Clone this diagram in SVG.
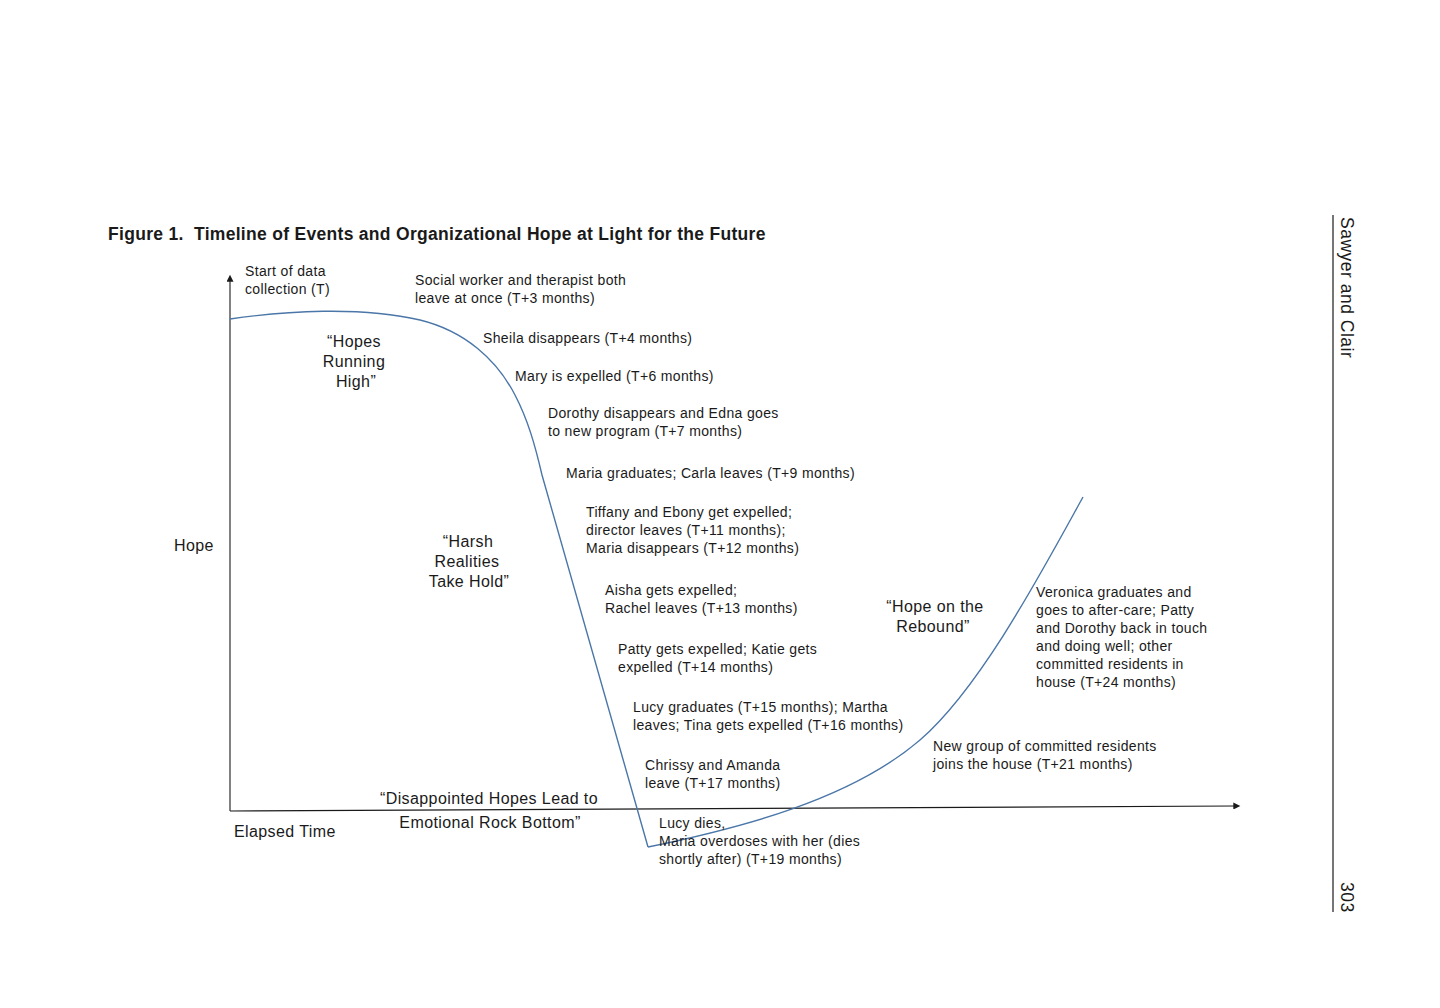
<svg xmlns="http://www.w3.org/2000/svg" width="1440" height="1008" viewBox="0 0 1440 1008">
<style>
text{font-family:"Liberation Sans",Arial,sans-serif;fill:#1a1a1a}
.t{font-size:14px;letter-spacing:0.35px}
.l{font-size:16px;letter-spacing:0.4px}
.c{text-anchor:middle}
.title{font-size:17.5px;font-weight:bold;letter-spacing:0.3px;white-space:pre}
.rh{font-size:17.5px;letter-spacing:0.5px}
.axis{stroke:#1a1a1a;stroke-width:1.1;fill:none}
.curve{stroke:#4a76a8;stroke-width:1.4;fill:none}
</style>
<defs>
<marker id="arr" viewBox="0 0 10 10" refX="1" refY="5" markerWidth="9" markerHeight="7" markerUnits="userSpaceOnUse" orient="auto">
<path d="M0,0 L10,5 L0,10 z" fill="#1a1a1a"/>
</marker>
</defs>
<rect width="1440" height="1008" fill="#fff"/>
<text class="title" x="108" y="240" xml:space="preserve">Figure 1.  Timeline of Events and Organizational Hope at Light for the Future</text>
<g id="connectors">
<path class="axis" d="M230,811 L230,281" marker-end="url(#arr)"/>
<path class="axis" d="M230,811 L1234,806" marker-end="url(#arr)"/>
<path id="curve-fall" class="curve" d="M230,319 C285,311 360,306 420,320 C465,331 497,360 515,395 C528,420 535,445 542,475 L648,847"/>
<path id="curve-rise" class="curve" d="M648,847 C740,828 850,800 920,740 C980,688 1040,575 1083,497"/>
</g>
<g id="axis-labels">
<text class="l" x="174" y="551">Hope</text>
<text class="l" x="234" y="837">Elapsed Time</text>
</g>
<g id="phase-hopes-high">
<text class="l c" x="354" y="347">“Hopes</text>
<text class="l c" x="354" y="367">Running</text>
<text class="l c" x="356" y="387">High”</text>
</g>
<g id="phase-harsh">
<text class="l c" x="468" y="547">“Harsh</text>
<text class="l c" x="467" y="567">Realities</text>
<text class="l c" x="469" y="587">Take Hold”</text>
</g>
<g id="phase-bottom">
<text class="l c" x="489" y="804">“Disappointed Hopes Lead to</text>
<text class="l c" x="490" y="828">Emotional Rock Bottom”</text>
</g>
<g id="phase-rebound">
<text class="l c" x="935" y="612">“Hope on the</text>
<text class="l c" x="933" y="632">Rebound”</text>
</g>
<g id="ev-start"><text class="t" x="245" y="276">Start of data</text><text class="t" x="245" y="294">collection (T)</text></g>
<g id="ev-t3"><text class="t" x="415" y="285">Social worker and therapist both</text><text class="t" x="415" y="303">leave at once (T+3 months)</text></g>
<g id="ev-t4"><text class="t" x="483" y="343">Sheila disappears (T+4 months)</text></g>
<g id="ev-t6"><text class="t" x="515" y="381">Mary is expelled (T+6 months)</text></g>
<g id="ev-t7"><text class="t" x="548" y="418">Dorothy disappears and Edna goes</text><text class="t" x="548" y="436">to new program (T+7 months)</text></g>
<g id="ev-t9"><text class="t" x="566" y="478">Maria graduates; Carla leaves (T+9 months)</text></g>
<g id="ev-t11"><text class="t" x="586" y="517">Tiffany and Ebony get expelled;</text><text class="t" x="586" y="535">director leaves (T+11 months);</text><text class="t" x="586" y="553">Maria disappears (T+12 months)</text></g>
<g id="ev-t13"><text class="t" x="605" y="595">Aisha gets expelled;</text><text class="t" x="605" y="613">Rachel leaves (T+13 months)</text></g>
<g id="ev-t14"><text class="t" x="618" y="654">Patty gets expelled; Katie gets</text><text class="t" x="618" y="672">expelled (T+14 months)</text></g>
<g id="ev-t15"><text class="t" x="633" y="712">Lucy graduates (T+15 months); Martha</text><text class="t" x="633" y="730">leaves; Tina gets expelled (T+16 months)</text></g>
<g id="ev-t17"><text class="t" x="645" y="770">Chrissy and Amanda</text><text class="t" x="645" y="788">leave (T+17 months)</text></g>
<g id="ev-t19"><text class="t" x="659" y="828">Lucy dies,</text><text class="t" x="659" y="846">Maria overdoses with her (dies</text><text class="t" x="659" y="864">shortly after) (T+19 months)</text></g>
<g id="ev-t21"><text class="t" x="933" y="751">New group of committed residents</text><text class="t" x="933" y="769">joins the house (T+21 months)</text></g>
<g id="ev-t24"><text class="t" x="1036" y="597">Veronica graduates and</text><text class="t" x="1036" y="615">goes to after-care; Patty</text><text class="t" x="1036" y="633">and Dorothy back in touch</text><text class="t" x="1036" y="651">and doing well; other</text><text class="t" x="1036" y="669">committed residents in</text><text class="t" x="1036" y="687">house (T+24 months)</text></g>
<g id="running-head">
<line x1="1333" y1="215" x2="1333" y2="912" stroke="#1a1a1a" stroke-width="1.2"/>
<text class="rh" transform="translate(1341,217) rotate(90)">Sawyer and Clair</text>
<text class="rh" transform="translate(1341,882) rotate(90)">303</text>
</g>
</svg>
